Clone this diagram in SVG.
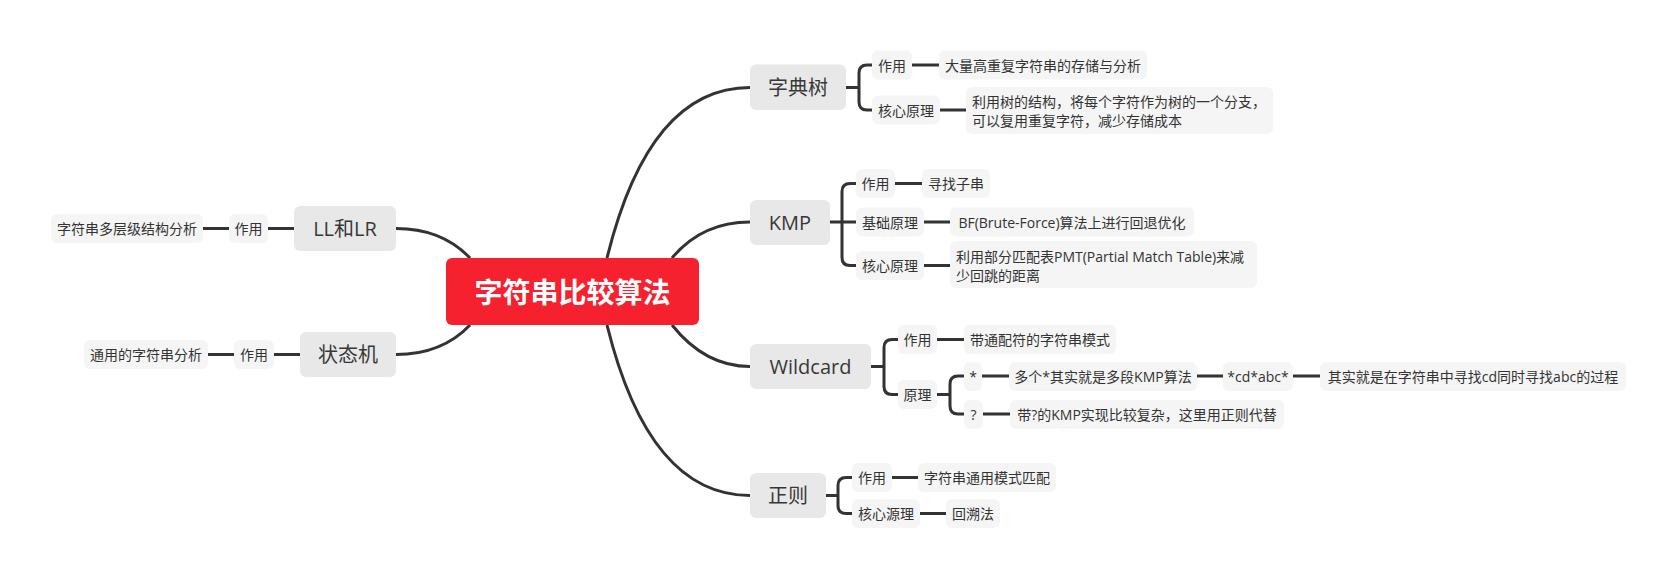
<svg xmlns="http://www.w3.org/2000/svg" width="1676" height="579" viewBox="0 0 1676 579">
<style>
text{font-family:"Open Sans","Noto Sans CJK SC",sans-serif;fill:#333;dominant-baseline:central}
.c{text-anchor:middle}
.main rect{fill:#E8E8E8}
.main text{font-size:20px;text-anchor:middle;fill:#383838}
.sub rect{fill:#F5F5F5}
.sub text{font-size:14px}
.root rect{fill:#F6212F}
.root text{font-size:28px;font-weight:bold;fill:#fff;text-anchor:middle}
#connectors path{fill:none;stroke:#333;stroke-width:3}
</style>
<rect width="1676" height="579" fill="#fff"/>
<g id="connectors">
<path d="M607,258 Q649,87.5 750,87.5"/>
<path d="M672,258 Q702,222 750,222"/>
<path d="M672,325 Q705,366.5 750,366.5"/>
<path d="M607,325 Q649,495.5 750,495.5"/>
<path d="M396,228.5 Q442,228.5 470,258"/>
<path d="M396,354.5 Q442,354.5 470,325"/>
<path d="M203,228.5 H229 M268,228.5 H294"/>
<path d="M208,354.5 H234 M274,354.5 H300"/>
<path d="M846,87.5 H859 M873,65 H867 Q859,65 859,73 V102 Q859,110 867,110 H873"/>
<path d="M912,65 H939 M940,110 H966"/>
<path d="M830,222 H856 M856,183.5 H850 Q842,183.5 842,191.5 V257.5 Q842,265.5 850,265.5 H856"/>
<path d="M895,183.5 H922 M924,222 H950 M924,265.5 H950"/>
<path d="M871,366.5 H884 M898,339.5 H892 Q884,339.5 884,347.5 V386.5 Q884,394.5 892,394.5 H898"/>
<path d="M937,339.5 H964 M937,394.5 H950 M964,376 H958 Q950,376 950,384 V406 Q950,414 958,414 H964"/>
<path d="M982,376 H1009 M1197,376 H1223 M1293,376 H1320 M983,414 H1010"/>
<path d="M826,495.5 H838 M852,477.5 H846 Q838,477.5 838,485.5 V505.5 Q838,513.5 846,513.5 H852"/>
<path d="M892,477.5 H918 M920,513.5 H946"/>
</g>
<g id="root" class="root"><rect x="446" y="258" width="253" height="67" rx="6"/><text x="572.5" y="291.5">字符串比较算法</text></g>
<g id="n-trie" class="main"><rect x="750" y="64.5" width="96" height="45.5" rx="6"/><text x="798" y="87.5">字典树</text></g>
<g id="n-kmp" class="main"><rect x="750" y="200" width="80" height="45" rx="6"/><text x="790" y="222.5">KMP</text></g>
<g id="n-wild" class="main"><rect x="750" y="344" width="121" height="45" rx="6"/><text x="810.5" y="366.5">Wildcard</text></g>
<g id="n-regex" class="main"><rect x="750" y="473" width="76" height="45" rx="6"/><text x="788" y="495.5">正则</text></g>
<g id="n-lllr" class="main"><rect x="294" y="206" width="102" height="45" rx="6"/><text x="345" y="228.5">LL和LR</text></g>
<g id="n-fsm" class="main"><rect x="300" y="332" width="96" height="45" rx="6"/><text x="348" y="354.5">状态机</text></g>

<g id="s-lllr-use" class="sub"><rect x="229" y="214" width="39" height="29" rx="6"/><text class="c" x="248.5" y="228.5">作用</text></g>
<g id="s-lllr-desc" class="sub"><rect x="51" y="214" width="152" height="29" rx="6"/><text class="c" x="127" y="228.5">字符串多层级结构分析</text></g>
<g id="s-fsm-use" class="sub"><rect x="234" y="340" width="40" height="29" rx="6"/><text class="c" x="254" y="354.5">作用</text></g>
<g id="s-fsm-desc" class="sub"><rect x="84" y="340" width="124" height="29" rx="6"/><text class="c" x="146" y="354.5">通用的字符串分析</text></g>

<g id="s-trie-use" class="sub"><rect x="872" y="50.5" width="40" height="29" rx="6"/><text class="c" x="892" y="65">作用</text></g>
<g id="s-trie-use-d" class="sub"><rect x="939" y="50.5" width="208" height="29" rx="6"/><text class="c" x="1043" y="65">大量高重复字符串的存储与分析</text></g>
<g id="s-trie-core" class="sub"><rect x="872" y="95.5" width="68" height="29" rx="6"/><text class="c" x="906" y="110">核心原理</text></g>
<g id="s-trie-core-d" class="sub"><rect x="966" y="87" width="307" height="47" rx="6"/><text x="972" y="101.5">利用树的结构，将每个字符作为树的一个分支，</text><text x="972" y="120">可以复用重复字符，减少存储成本</text></g>

<g id="s-kmp-use" class="sub"><rect x="856" y="169" width="39" height="29" rx="6"/><text class="c" x="875.5" y="183.5">作用</text></g>
<g id="s-kmp-use-d" class="sub"><rect x="922" y="169" width="68" height="29" rx="6"/><text class="c" x="956" y="183.5">寻找子串</text></g>
<g id="s-kmp-base" class="sub"><rect x="856" y="207.5" width="68" height="29" rx="6"/><text class="c" x="890" y="222">基础原理</text></g>
<g id="s-kmp-base-d" class="sub"><rect x="950" y="207.5" width="244" height="29" rx="6"/><text class="c" x="1072" y="222">BF(Brute-Force)算法上进行回退优化</text></g>
<g id="s-kmp-core" class="sub"><rect x="856" y="251" width="68" height="29" rx="6"/><text class="c" x="890" y="265.5">核心原理</text></g>
<g id="s-kmp-core-d" class="sub"><rect x="950" y="241" width="307" height="47" rx="6"/><text x="956" y="256.5">利用部分匹配表PMT(Partial Match Table)来减</text><text x="956" y="275">少回跳的距离</text></g>

<g id="s-wild-use" class="sub"><rect x="898" y="325" width="39" height="29" rx="6"/><text class="c" x="917.5" y="339.5">作用</text></g>
<g id="s-wild-use-d" class="sub"><rect x="964" y="325" width="152" height="29" rx="6"/><text class="c" x="1040" y="339.5">带通配符的字符串模式</text></g>
<g id="s-wild-prin" class="sub"><rect x="898" y="380" width="39" height="29" rx="6"/><text class="c" x="917.5" y="394.5">原理</text></g>
<g id="s-star" class="sub"><rect x="964" y="362" width="18" height="29" rx="6"/><text class="c" x="973" y="376">*</text></g>
<g id="s-star-d" class="sub"><rect x="1009" y="362" width="188" height="29" rx="6"/><text class="c" x="1103" y="376">多个*其实就是多段KMP算法</text></g>
<g id="s-star-ex" class="sub"><rect x="1223" y="362" width="70" height="29" rx="6"/><text class="c" x="1258" y="376">*cd*abc*</text></g>
<g id="s-star-ex-d" class="sub"><rect x="1320" y="362" width="306" height="29" rx="6"/><text class="c" x="1473" y="376">其实就是在字符串中寻找cd同时寻找abc的过程</text></g>
<g id="s-q" class="sub"><rect x="964" y="400" width="19" height="29" rx="6"/><text class="c" x="973.5" y="414">?</text></g>
<g id="s-q-d" class="sub"><rect x="1010" y="400" width="274" height="29" rx="6"/><text class="c" x="1147" y="414">带?的KMP实现比较复杂，这里用正则代替</text></g>

<g id="s-re-use" class="sub"><rect x="852" y="463" width="40" height="29" rx="6"/><text class="c" x="872" y="477.5">作用</text></g>
<g id="s-re-use-d" class="sub"><rect x="918" y="463" width="138" height="29" rx="6"/><text class="c" x="987" y="477.5">字符串通用模式匹配</text></g>
<g id="s-re-core" class="sub"><rect x="852" y="499" width="68" height="29" rx="6"/><text class="c" x="886" y="513.5">核心源理</text></g>
<g id="s-re-core-d" class="sub"><rect x="946" y="499" width="54" height="29" rx="6"/><text class="c" x="973" y="513.5">回溯法</text></g>
</svg>
